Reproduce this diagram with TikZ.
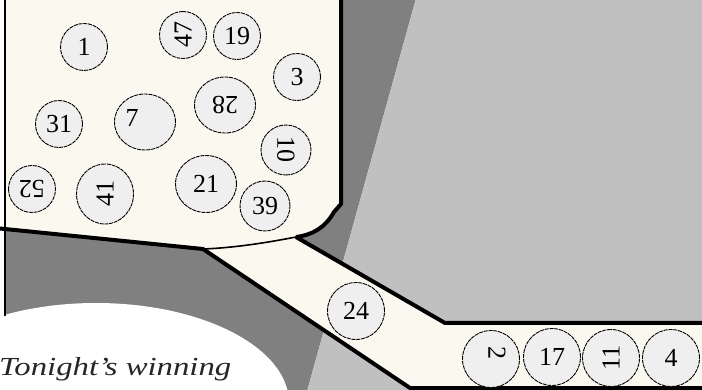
\documentclass[tikz,border=0pt]{standalone}
\usepackage{fontspec}
\usepackage{graphicx}
\setmainfont{Liberation Serif}
\usetikzlibrary{shapes.geometric}
\definecolor{darkbg}{HTML}{808080}
\definecolor{lightbg}{HTML}{C0C0C0}
\definecolor{cream}{HTML}{FBF9EF}
\definecolor{ballfill}{HTML}{EFEFEF}
\tikzset{
  thickline/.style={line width=4pt, line join=round},
  thinline/.style={line width=1.6pt},
  ballfont/.style={font=\fontsize{26}{28}\selectfont},
  ball/.style={ellipse, draw=black, fill=ballfill, line width=0.9pt,
    dash pattern=on 4pt off 0.8pt, inner sep=0pt, ballfont},
  sball/.style={ball, minimum width=47pt, minimum height=47pt},
  mball/.style={ball, minimum width=50pt, minimum height=50pt},
  lball/.style={ball, minimum width=57pt, minimum height=57pt},
  wball/.style={ball, minimum width=61pt, minimum height=56pt},
}
\begin{document}
\begin{tikzpicture}[x=1pt,y=-1pt]
\useasboundingbox (0,0) rectangle (702,390);
\clip (0,0) rectangle (702,390);
% background
\fill[white] (-5,-5) rectangle (710,395);
\fill[darkbg] (5,-5) -- (417,-5) -- (306,395) -- (5,395) -- cycle;
\fill[lightbg] (417,-5) -- (710,-5) -- (710,395) -- (306,395) -- cycle;
% hopper
\fill[cream] (5,-5) -- (341,-5) -- (341,204) -- (334,212)
  .. controls (325,228) and (312,235) .. (296,237)
  .. controls (260,244) and (230,248) .. (203,249) -- (5,229) -- cycle;
% chute
\fill[cream] (203,249) -- (296,237) -- (445,323) -- (710,323) -- (710,388) -- (410,388) -- cycle;
% ellipse
\fill[white] (96,403) ellipse [x radius=193pt, y radius=100pt];
% outlines
\draw[thinline] (5,-5) -- (5,316);
\draw[thinline] (296,237) .. controls (260,244) and (230,248) .. (203,249);
\draw[thickline] (341,-5) -- (341,204) -- (334,212)
  .. controls (325,228) and (312,235) .. (296,237);
\draw[thickline] (-5,228) -- (203,249) -- (410,388) -- (710,388);
\draw[thickline] (296,237) -- (445,323) -- (710,323);
% caption
\node[anchor=base west, inner sep=0pt, text=black!85] (caption) at (-1,375)
  {\scalebox{1.26}[1]{\fontsize{26}{28}\selectfont\itshape Tonight{\char"27}s winning}};
% balls
\node[sball] (b1) at (84,47) {1};
\node[sball, rotate=90] (b47) at (183,35) {47};
\node[sball] (b19) at (237,36) {19};
\node[sball] (b3) at (297,77) {3};
\node[wball, rotate=180] (b28) at (225,105) {28};
\node[wball] (b7) at (145,122) {};
\node[inner sep=0pt, ballfont] (t7) at (132,118) {7};
\node[sball] (b31) at (59,124) {31};
\node[mball, rotate=-90] (b10) at (286,150) {10};
\node[sball, rotate=180] (b52) at (32,189) {52};
\node[ball, minimum width=60pt, minimum height=57pt, rotate=90] (b41) at (105,194) {41};
\node[wball, minimum height=57pt] (b21) at (206,184) {21};
\node[mball] (b39) at (265,206) {39};
\node[lball] (b24) at (356,311) {24};
\node[lball] (b2) at (491,359) {};
\node[inner sep=0pt, rotate=-90, ballfont] (t2) at (497,353) {2};
\node[lball] (b17) at (552,357) {17};
\node[lball, rotate=90] (b11) at (611,358) {11};
\node[lball] (b4) at (671,358) {4};
\end{tikzpicture}
\end{document}
